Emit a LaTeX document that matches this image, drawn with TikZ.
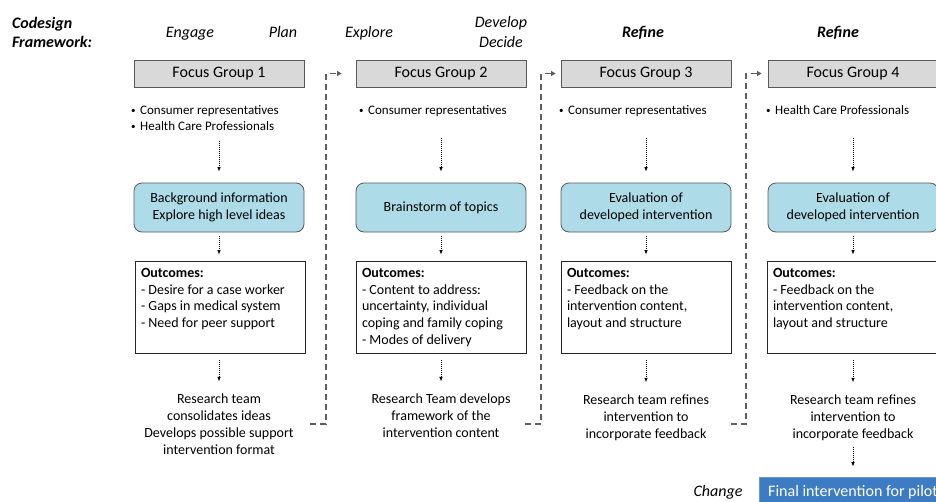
\documentclass[tikz,border=0pt]{standalone}
\usepackage{fontspec}
\setmainfont{Carlito}
\usetikzlibrary{arrows.meta}
\definecolor{fggray}{HTML}{D9D9D9}
\definecolor{edgegray}{HTML}{595959}
\definecolor{lblue}{HTML}{ADDCE8}
\definecolor{fblue}{HTML}{3D7CC2}
\definecolor{fbluedge}{HTML}{6A9AD0}
\definecolor{dashgray}{HTML}{5E5E5E}
\newcommand{\mybul}{\makebox[9pt][l]{\raisebox{1.2pt}{\fontsize{9}{9}\selectfont\textbullet}}}
\begin{document}
\begin{tikzpicture}[x=1pt,y=-1pt,
  fgbox/.style={draw=edgegray, fill=fggray, line width=0.8pt, minimum width=170pt, minimum height=27pt, inner sep=0pt, font=\fontsize{16}{19}\selectfont},
  topicbox/.style={draw=edgegray, fill=lblue, rounded corners=8pt, line width=0.8pt, minimum width=170pt, minimum height=49pt, align=center, inner sep=0pt, font=\fontsize{14}{17}\selectfont},
  outbox/.style={draw=black!85, line width=0.8pt, inner xsep=6pt, inner ysep=5pt, font=\fontsize{14}{16.7}\selectfont},
  bullets/.style={align=left, inner sep=0pt, font=\fontsize{13}{16}\selectfont},
  restext/.style={align=center, inner sep=0pt, font=\fontsize{14}{17}\selectfont},
  phase/.style={font=\fontsize{16}{19.5}\selectfont\itshape, inner sep=0pt, align=center},
  phaseb/.style={font=\fontsize{16}{19.5}\selectfont\bfseries\itshape, inner sep=0pt, align=left},
  dotarr/.style={dash pattern=on 1pt off 1pt, line width=0.7pt, -{Latex[length=4.5pt,width=3.5pt]}},
  dashcon/.style={dashgray, line width=1.3pt, dash pattern=on 6pt off 4pt, -{Triangle[length=4.5pt,width=5pt]}},
  finalbox/.style={draw=fbluedge, fill=fblue, text=white, line width=0.8pt, minimum width=188pt, minimum height=30pt, inner sep=0pt, font=\fontsize{16}{19}\selectfont},
]
\clip (0,0) rectangle (936,501);
\fill[white] (0,0) rectangle (936,501);

% header
\node[phaseb] (cf) at (52,32.5) {Codesign\\Framework:};
\node[phase, anchor=base] (engage) at (190,37) {Engage};
\node[phase, anchor=base] (plan) at (283,37) {Plan};
\node[phase, anchor=base] (explore) at (369,37) {Explore};
\node[phase] (devdec) at (501,32) {Develop\\Decide};
\node[phase, font=\fontsize{16}{19.5}\selectfont\bfseries\itshape, anchor=base] (ref1) at (643,37) {Refine};
\node[phase, font=\fontsize{16}{19.5}\selectfont\bfseries\itshape, anchor=base] (ref2) at (838,37) {Refine};

% focus groups
\node[fgbox] (fg1) at (219,73.5) {Focus Group 1};
\node[fgbox] (fg2) at (441,73.5) {Focus Group 2};
\node[fgbox] (fg3) at (646,73.5) {Focus Group 3};
\node[fgbox] (fg4) at (853,73.5) {Focus Group 4};

% participants
\node[bullets, anchor=west] (bul1) at (131,118.3) {\mybul Consumer representatives\\\mybul Health Care Professionals};
\node[bullets, anchor=base west] (bul2) at (359,114.5) {\mybul Consumer representatives};
\node[bullets, anchor=base west] (bul3) at (559,114.5) {\mybul Consumer representatives};
\node[bullets, anchor=base west] (bul4) at (766,114.5) {\mybul Health Care Professionals};

% topic boxes
\node[topicbox] (t1) at (219,207.5) {Background information\\Explore high level ideas};
\node[topicbox] (t2) at (441,207.5) {Brainstorm of topics};
\node[topicbox] (t3) at (646,207.5) {Evaluation of\\developed intervention};
\node[topicbox] (t4) at (853,207.5) {Evaluation of\\developed intervention};

% outcomes
\node[outbox] (o1) at (220,307) {\begin{minipage}[c][82pt][t]{158pt}\rule{0pt}{11.5pt}\textbf{Outcomes:}\\- Desire for a case worker\\- Gaps in medical system\\- Need for peer support\end{minipage}};
\node[outbox] (o2) at (441,307) {\begin{minipage}[c][82pt][t]{158pt}\rule{0pt}{11.5pt}\textbf{Outcomes:}\\- Content to address:\\uncertainty, individual\\coping and family coping\\- Modes of delivery\end{minipage}};
\node[outbox] (o3) at (646,307) {\begin{minipage}[c][82pt][t]{158pt}\rule{0pt}{11.5pt}\textbf{Outcomes:}\\- Feedback on the\\intervention content,\\layout and structure\end{minipage}};
\node[outbox] (o4) at (852,307) {\begin{minipage}[c][82pt][t]{158pt}\rule{0pt}{11.5pt}\textbf{Outcomes:}\\- Feedback on the\\intervention content,\\layout and structure\end{minipage}};

% research team texts
\node[restext] (r1) at (219,424.1) {Research team\\consolidates ideas\\Develops possible support\\intervention format};
\node[restext] (r2) at (441,415.6) {Research Team develops\\framework of the\\intervention content};
\node[restext] (r3) at (646,417.5) {Research team refines\\intervention to\\incorporate feedback};
\node[restext] (r4) at (853,417.5) {Research team refines\\intervention to\\incorporate feedback};

% final
\node[finalbox] (fin) at (853,492) {Final intervention for pilot};
\node[phase, anchor=base] (change) at (718,496) {Change};

% dotted arrows
\draw[dotarr, shorten <=9.5pt, shorten >=11pt] (bul1.south -| t1.north) -- (t1.north);
\draw[dotarr, shorten <=21pt, shorten >=11pt] (bul2.south -| t2.north) -- (t2.north);
\draw[dotarr, shorten <=21pt, shorten >=11pt] (bul3.south -| t3.north) -- (t3.north);
\draw[dotarr, shorten <=23pt, shorten >=11pt] (bul4.south -| t4.north) -- (t4.north);
\foreach \i in {1,2,3} {
  \draw[dotarr, shorten <=4pt, shorten >=6pt] (t\i.south) -- (o\i.north -| t\i.south);
}
\draw[dotarr, shorten <=4pt, shorten >=6pt] (t4.south) -- (o4.north -| t4.south);
\foreach \i in {1,2,3,4} {
  \draw[dotarr, shorten <=7pt, shorten >=12pt] (o\i.south -| r\i.north) -- (r\i.north);
}
\draw[dotarr, shorten <=6pt, shorten >=10pt] (r4.south) -- (fin.north);

% dashed connectors
\coordinate (d1) at (310,424);
\coordinate (d2) at (525,424);
\coordinate (d3) at (731,424);
\draw[dashcon] (d1) -- ++(16,0) |- ([xshift=-14pt]fg2.west);
\draw[dashcon] (d2) -- ++(16,0) |- ([xshift=-5pt]fg3.west);
\draw[dashcon] (d3) -- ++(15,0) |- ([xshift=-6pt]fg4.west);
\end{tikzpicture}
\end{document}
